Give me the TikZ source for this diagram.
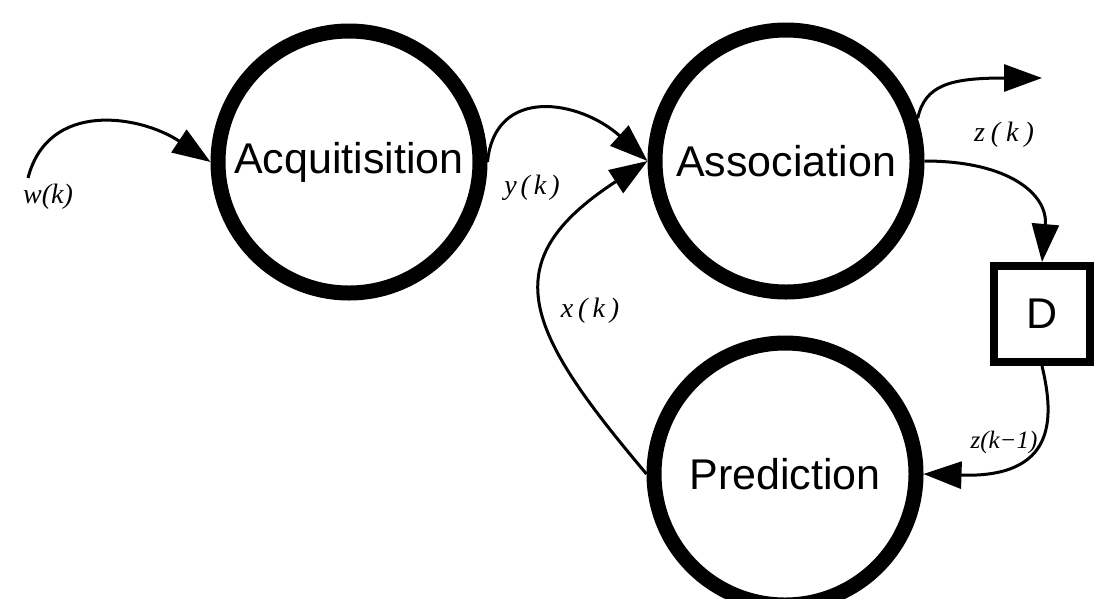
\documentclass[tikz,border=0pt]{standalone}
\usepackage{fontspec}
\newfontfamily\helv{Liberation Sans}
\newfontfamily\tms{Liberation Serif}
\usetikzlibrary{arrows.meta}
\begin{document}
\begin{tikzpicture}[x=1pt,y=-1pt,
  proc/.style={circle, draw, line width=15pt, minimum size=262pt, inner sep=0pt,
    outer sep=7.5pt, font=\helv\fontsize{43}{43}\selectfont},
  delaybox/.style={rectangle, draw, line width=8pt, minimum size=96pt, inner sep=0pt,
    outer sep=4pt, font=\helv\fontsize{43}{43}\selectfont},
  conn/.style={line width=3pt, -{Triangle[length=38pt,width=27pt]}},
  lab/.style={font=\tms\itshape\fontsize{28}{28}\selectfont, inner sep=0pt}
]
\useasboundingbox (0,0) rectangle (1097,598);

\node[proc] (acq) at (349,162) {Acquitisition};
\node[proc] (assoc) at (786,161) {Association};
\node[proc] (pred) at (785,474) {Prediction};
\node[delaybox] (d) at (1042,314) {D};

\coordinate (win) at (28,178);
\coordinate (zout) at (1042,78);

\draw[conn] (win) .. controls (48,100) and (140,115) .. (acq.west);
\draw[conn] (acq.east) .. controls (495,85) and (580,100) .. (assoc.west);
\draw[conn] (pred.west) .. controls (525,330) and (492,262) .. (assoc.west);
\draw[conn] (assoc.18) .. controls (925,85) and (950,78) .. (zout);
\draw[conn] (assoc.east) .. controls (1010,161) and (1048,195) .. (d.north);
\draw[conn] (d.south) .. controls (1055,420) and (1055,478) .. (pred.east);

\node[lab] (lw) at (48,197) {w(k)};
\node[lab] (ly) at (532,188) {y\hspace{4pt}(\hspace{4pt}k\hspace{4pt})};
\node[lab] (lz) at (1004,135) {z\hspace{6pt}(\hspace{6pt}k\hspace{6pt})};
\node[lab] (lx) at (590,311) {x\hspace{5pt}(\hspace{5pt}k\hspace{5pt})};
\node[lab, font=\tms\itshape\fontsize{25}{25}\selectfont] (lz1) at (1004,442) {z(k−1)};
\end{tikzpicture}
\end{document}
